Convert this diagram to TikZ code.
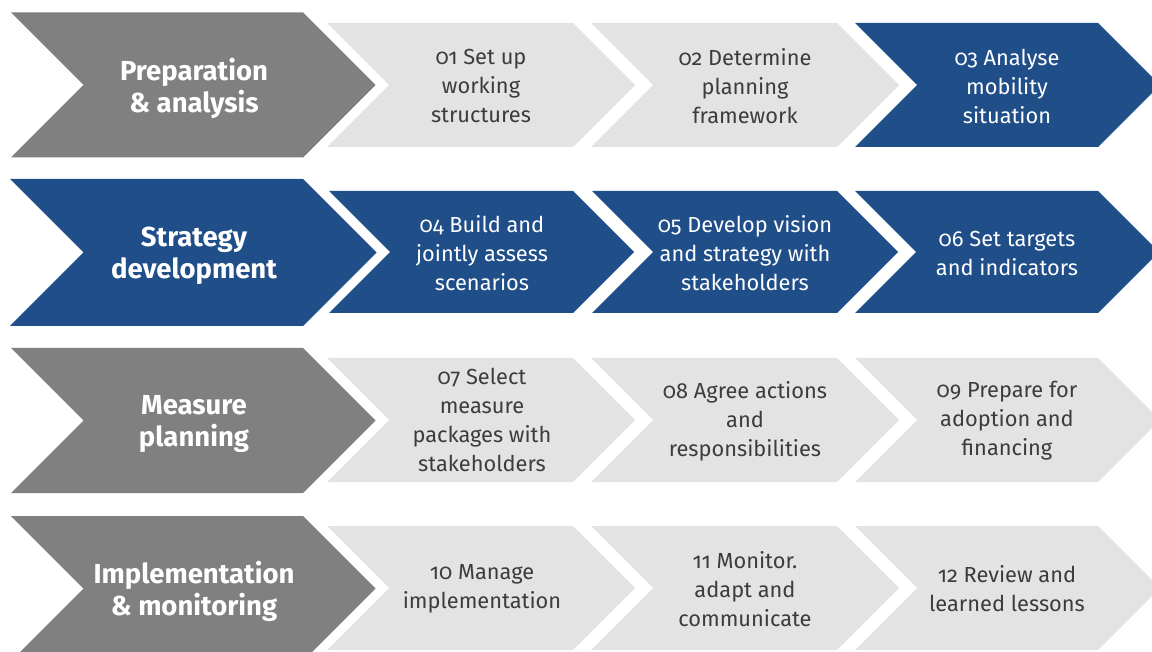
\documentclass[tikz,border=0pt]{standalone}
\usepackage{fontspec}
\setmainfont[Numbers=OldStyle]{Fira Sans}
\definecolor{cblue}{HTML}{1F4E89}
\definecolor{cgray}{HTML}{808080}
\definecolor{clight}{HTML}{E3E3E3}
\definecolor{ctext}{HTML}{3C3C3C}
\newcommand\chevshape[5]{% x, ycenter, w, h, fill
  \fill[#5] (#1,#2-#4/2) -- ++(#3,0) -- ++(#4/2,#4/2) -- ++(-#4/2,#4/2) -- ++(-#3,0) -- ++(#4/2,-#4/2) -- cycle;}
\tikzset{
  head/.style={text=white,align=center,font=\fontsize{27.5}{32}\selectfont\bfseries},
  stepdark/.style={text=ctext,align=center,font=\fontsize{21.8}{29}\selectfont},
  steplight/.style={text=white,align=center,font=\fontsize{21.8}{29}\selectfont},
}
\begin{document}
\begin{tikzpicture}[x=1pt,y=-1pt]
\useasboundingbox (0,0) rectangle (1152,652);
\begin{scope}
\clip (0,0) rectangle (1152,652);
% row 1
\chevshape{11}{85}{292}{145}{cgray}
\chevshape{327}{85}{246}{124}{clight}
\chevshape{591}{85}{246}{124}{clight}
\chevshape{855}{85}{243}{124}{cblue}
% row 2
\chevshape{10}{252.5}{293}{147}{cblue}
\chevshape{329}{252}{244}{122}{cblue}
\chevshape{592}{252}{245}{122}{cblue}
\chevshape{855}{252}{243}{122}{cblue}
% row 3
\chevshape{11}{420.5}{292}{145}{cgray}
\chevshape{327}{420}{246}{124}{clight}
\chevshape{591}{420}{246}{124}{clight}
\chevshape{855}{420}{243}{124}{clight}
% row 4
\chevshape{11}{588.5}{292}{145}{cgray}
\chevshape{327}{588}{246}{124}{clight}
\chevshape{591}{588}{246}{124}{clight}
\chevshape{855}{588}{243}{124}{clight}
\end{scope}
% texts
\node[head] (h1) at (194,88) {Preparation\\\& analysis};
\node[stepdark] (s01) at (481,86) {01 Set up\\working\\structures};
\node[stepdark] (s02) at (745,86) {02 Determine\\planning\\framework};
\node[steplight] (s03) at (1007,86) {03 Analyse\\mobility\\situation};
\node[head] (h2) at (194,256) {Strategy\\development};
\node[steplight] (s04) at (482,253) {04 Build and\\jointly assess\\scenarios};
\node[steplight] (s05) at (745,253) {05 Develop vision\\and strategy with\\stakeholders};
\node[steplight] (s06) at (1007,253) {06 Set targets\\and indicators};
\node[head] (h3) at (194,424) {Measure\\planning};
\node[stepdark] (s07) at (482,420) {07 Select\\measure\\packages with\\stakeholders};
\node[stepdark] (s08) at (745,421) {08 Agree actions\\and\\responsibilities};
\node[stepdark] (s09) at (1007,421) {09 Prepare for\\adoption and\\financing};
\node[head] (h4) at (194,591) {Implementation\\\& monitoring};
\node[stepdark] (s10) at (482,589) {10 Manage\\implementation};
\node[stepdark] (s11) at (745,589) {11 Monitor.\\adapt and\\communicate};
\node[stepdark] (s12) at (1007,589) {12 Review and\\learned lessons};
\end{tikzpicture}
\end{document}
